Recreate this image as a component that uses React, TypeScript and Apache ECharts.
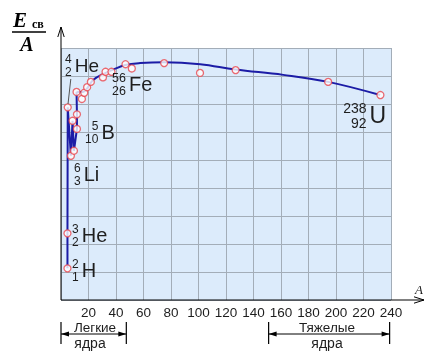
import React, { useEffect, useRef } from "react";
import * as echarts from "echarts";

const pointX = [4.7, 4.7, 4.9, 7.2, 9.4, 8.4, 11.6, 11.6, 11.3, 15.2, 16.9, 19.0, 21.7, 30.5, 32.4, 36.7, 46.9, 51.5, 75.0, 101.1, 127.0, 194.3, 232.3];
const pointY = [1.13, 2.38, 6.88, 5.15, 5.33, 6.4, 6.11, 6.63, 7.43, 7.18, 7.4, 7.6, 7.79, 7.95, 8.15, 8.15, 8.42, 8.27, 8.46, 8.11, 8.21, 7.79, 7.32];

// jagged line through the light nuclei
const lightX = [4.7, 4.7, 4.9, 7.2, 8.4, 9.4, 11.6, 11.6, 11.3];
const lightY = [1.13, 2.38, 6.88, 5.15, 6.4, 5.33, 6.11, 6.63, 7.43];

// smooth trend curve
const curveX = [11.3, 16.1, 19.1, 23.4, 30.7, 38.0, 46.7, 57.6, 75.0, 101.2, 126.7, 161.6, 194.3, 232.1];
const curveY = [7.43, 7.43, 7.57, 7.86, 8.07, 8.23, 8.39, 8.46, 8.49, 8.42, 8.23, 8.04, 7.79, 7.32];

// ranges of the bottom annotations (A)
const lightRange = [0, 47.5];
const heavyRange = [151, 239];

const X_MAX = 240;
const X_STEP = 20;
const Y_MAX = 9;
const Y_STEP = 1;

const W = 426;
const H = 351;
const GRID = { left: 61, top: 48, right: 35, bottom: 51 };

const SANS = "'Liberation Sans', Arial, sans-serif";
const SERIF = "'Liberation Serif', 'Times New Roman', serif";
const TXT = "#1e1e1e";

export default function App() {
  const ref = useRef<HTMLDivElement>(null);
  useEffect(() => {
    const chart = echarts.init(ref.current!, null, { renderer: "svg" });
    const gw = W - GRID.left - GRID.right;
    const gh = H - GRID.top - GRID.bottom;
    const px = (v: number) => GRID.left + (v / X_MAX) * gw;
    const py = (v: number) => GRID.top + gh - (v / Y_MAX) * gh;
    const x0 = px(0);
    const y0 = py(0);

    const t = (text: string, x: number, y: number, size: number, align = "left", extra: any = {}) => ({
      type: "text",
      x,
      y,
      z: 100,
      style: {
        text,
        fill: TXT,
        fontSize: size,
        fontFamily: SANS,
        align,
        verticalAlign: "middle",
        ...extra,
      },
    });
    const ln = (x1: number, y1: number, x2: number, y2: number, w = 1, c = "#000") => ({
      type: "line",
      z: 100,
      shape: { x1, y1, x2, y2 },
      style: { stroke: c, lineWidth: w },
    });
    const nuclide = (mass: string, z: string, sym: string, cx: number, cy: number, symSize: number, digSize: number) => {
      const dw = digSize * 0.56 * Math.max(mass.length, z.length);
      return [
        t(mass, cx + dw, cy - digSize * 0.5, digSize, "right"),
        t(z, cx + dw, cy + digSize * 0.55, digSize, "right"),
        t(sym, cx + dw + 3, cy, symSize, "left"),
      ];
    };
    const dim = (a: number, b: number, yl: number, t1: number, t2: number) => {
      const xa = px(a);
      const xb = px(b);
      return [
        ln(xa, t1, xa, t2, 1.2),
        ln(xb, t1, xb, t2, 1.2),
        ln(xa, yl, xb, yl, 1),
        { type: "polygon", z: 100, shape: { points: [[xa, yl], [xa + 8, yl - 2.5], [xa + 8, yl + 2.5]] }, style: { fill: "#000" } },
        { type: "polygon", z: 100, shape: { points: [[xb, yl], [xb - 8, yl - 2.5], [xb - 8, yl + 2.5]] }, style: { fill: "#000" } },
      ];
    };

    const graphic: any[] = [
      // axes with arrows
      ln(x0, y0, x0, 27, 1),
      { type: "polyline", z: 100, shape: { points: [[x0 - 3.2, 37], [x0, 27], [x0 + 3.2, 37]] }, style: { stroke: "#000", fill: "none", lineWidth: 1 } },
      ln(x0, y0, 424, y0, 1),
      { type: "polyline", z: 100, shape: { points: [[414, y0 - 3.2], [424, y0], [414, y0 + 3.2]] }, style: { stroke: "#000", fill: "none", lineWidth: 1 } },
      t("A", 415, 289, 13, "left", { fontStyle: "italic", fontFamily: SERIF }),
      // y title E_св / A
      t("E", 13, 20, 21, "left", { fontStyle: "italic", fontWeight: "bold", fontFamily: SERIF, fill: "#000" }),
      t("св", 32, 24, 12, "left", { fontWeight: "bold", fontFamily: SERIF, fill: "#000" }),
      ln(12, 32, 46, 32, 1.5),
      t("A", 27, 44, 20, "center", { fontStyle: "italic", fontWeight: "bold", fontFamily: SERIF, fill: "#000" }),
      // pointer for He-4
      ln(70.8, 79, 68, 104, 1, "#555"),
      ...nuclide("4", "2", "He", 65, 65, 19, 12),
      ...nuclide("56", "26", "Fe", 112, 84, 20, 12.5),
      ...nuclide("5", "10", "B", 85, 132, 20, 12),
      ...nuclide("6", "3", "Li", 74, 174, 20, 12),
      ...nuclide("3", "2", "He", 72, 235, 20, 12),
      ...nuclide("2", "1", "H", 72, 270, 20, 12),
      ...nuclide("238", "92", "U", 343, 115, 23, 14),
      // bottom annotations
      ...dim(lightRange[0], lightRange[1], 334, 322, 344),
      ...dim(heavyRange[0], heavyRange[1], 334, 322, 344),
      t("Легкие", 95, 327, 13.5, "center"),
      t("ядра", 90, 343, 14, "center"),
      t("Тяжелые", 327, 327, 13.5, "center"),
      t("ядра", 327, 343, 14, "center"),
    ];

    const grid = "#a3adb8";
    chart.setOption({
      animation: false,
      grid: { ...GRID, show: true, backgroundColor: "#dcebfb", borderWidth: 0 },
      xAxis: {
        type: "value",
        min: 0,
        max: X_MAX,
        interval: X_STEP,
        axisLine: { show: false },
        axisTick: { show: false },
        axisLabel: {
          margin: 5,
          fontSize: 13.5,
          color: TXT,
          fontFamily: SANS,
          formatter: (v: number) => (v === 0 ? "" : String(v)),
        },
        splitLine: { show: true, lineStyle: { color: grid, width: 1 } },
      },
      yAxis: {
        type: "value",
        min: 0,
        max: Y_MAX,
        interval: Y_STEP,
        axisLine: { show: false },
        axisTick: { show: false },
        axisLabel: { show: false },
        splitLine: { show: true, lineStyle: { color: grid, width: 1 } },
      },
      series: [
        {
          type: "line",
          data: lightX.map((x, i) => [x, lightY[i]]),
          symbol: "none",
          lineStyle: { color: "#1c1ca6", width: 2 },
          z: 3,
        },
        {
          type: "line",
          data: curveX.map((x, i) => [x, curveY[i]]),
          symbol: "none",
          smooth: 0.4,
          lineStyle: { color: "#1c1ca6", width: 2 },
          z: 3,
        },
        {
          type: "scatter",
          data: pointX.map((x, i) => [x, pointY[i]]),
          symbol: "circle",
          symbolSize: 7,
          itemStyle: { color: "#ffffff", borderColor: "#e8464e", borderWidth: 1.3 },
          z: 5,
        },
      ],
      graphic,
    });
    return () => chart.dispose();
  }, []);
  return <div ref={ref} style={{ position: "fixed", left: 0, top: 0, width: W, height: H }} />;
}
